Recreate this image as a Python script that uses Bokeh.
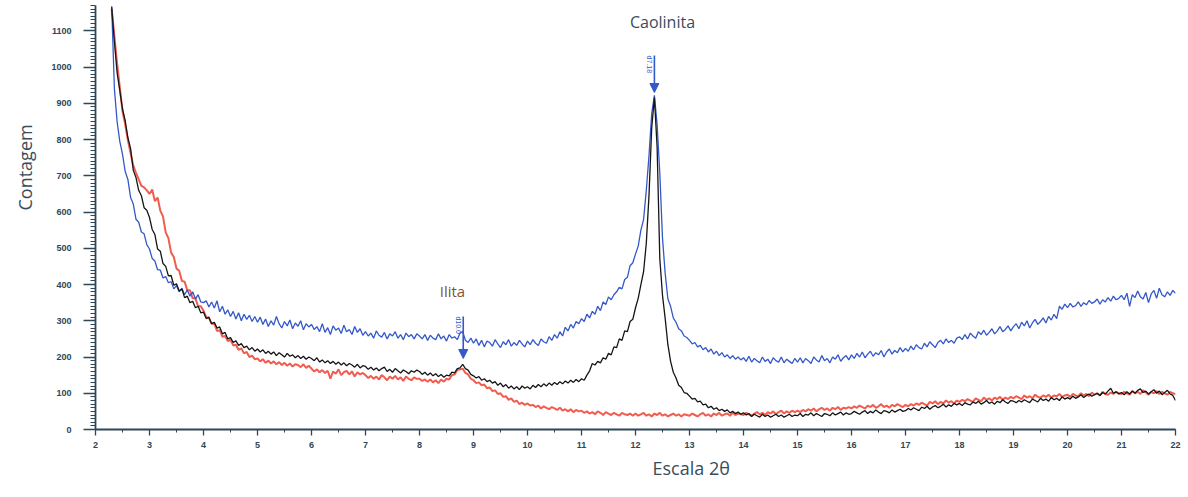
import numpy as np
from bokeh.plotting import figure
from bokeh.models import Range1d, SingleIntervalTicker, Label, Arrow, NormalHead, ColumnDataSource, Title
from bokeh.core.properties import value
from bokeh.embed import file_html
from bokeh.resources import INLINE

# Diffractogram counts, 0.05 deg steps; each row starts at the angle in row_starts
STEP = 0.05
row_starts = [2.3] + list(range(3, 23))

blue_rows = [
    [1168, 940, 850, 795, 760, 712, 690, 640, 622, 580, 572, 545, 540, 510],
    [498, 472, 465, 441, 440, 418, 422, 405, 408, 388, 397, 380, 390, 372, 385, 368, 380, 360, 372, 352],
    [350, 355, 338, 352, 335, 355, 325, 340, 318, 330, 312, 326, 305, 322, 300, 318, 304, 315, 298, 312],
    [296, 310, 290, 305, 284, 300, 288, 312, 292, 280, 298, 286, 302, 278, 294, 285, 300, 275, 292, 283],
    [290, 276, 284, 270, 292, 268, 281, 262, 286, 274, 280, 265, 288, 270, 276, 262, 284, 268, 278, 260],
    [270, 258, 266, 252, 272, 260, 255, 268, 250, 264, 258, 270, 252, 262, 248, 266, 256, 262, 250, 264],
    [258, 250, 262, 246, 260, 252, 248, 264, 250, 258, 244, 262, 252, 256, 248, 266, 270, 246, 240, 252],
    [238, 250, 232, 246, 228, 244, 240, 230, 248, 236, 226, 242, 234, 248, 230, 240, 232, 246, 236, 228],
    [244, 234, 248, 238, 232, 250, 242, 238, 256, 246, 262, 252, 270, 258, 282, 272, 290, 280, 298, 292],
    [306, 298, 318, 308, 326, 318, 340, 328, 352, 345, 366, 358, 372, 380, 392, 388, 414, 420, 452, 460],
    [484, 506, 550, 580, 660, 756, 872, 922, 842, 708, 528, 430, 360, 340, 308, 296, 278, 272, 258, 254],
    [246, 236, 240, 228, 232, 220, 226, 214, 222, 208, 216, 204, 212, 200, 206, 196, 204, 194, 200, 192],
    [198, 188, 202, 186, 196, 190, 184, 200, 188, 194, 182, 198, 190, 186, 200, 184, 194, 188, 182, 196],
    [186, 198, 184, 196, 190, 182, 200, 192, 186, 204, 190, 196, 184, 200, 194, 206, 188, 198, 204, 192],
    [206, 196, 210, 200, 214, 198, 208, 216, 202, 212, 206, 218, 200, 214, 222, 208, 218, 212, 226, 214],
    [224, 216, 230, 220, 234, 226, 222, 238, 228, 242, 234, 226, 240, 246, 236, 250, 240, 246, 238, 252],
    [256, 248, 262, 250, 266, 258, 252, 270, 262, 274, 260, 268, 278, 264, 272, 284, 270, 276, 286, 272],
    [284, 292, 278, 296, 286, 300, 280, 294, 304, 290, 298, 308, 294, 312, 302, 318, 306, 340, 332, 346],
    [336, 348, 338, 342, 352, 340, 350, 344, 356, 348, 352, 360, 346, 358, 352, 364, 354, 368, 358, 362],
    [370, 358, 376, 340, 372, 364, 382, 366, 360, 378, 350, 374, 384, 362, 390, 372, 366, 380, 370, 384],
    [376],
]

black_rows = [
    [1165, 1070, 985, 935, 885, 852, 805, 775, 715, 695, 660, 645, 612, 605],
    [585, 552, 538, 498, 492, 458, 450, 424, 425, 398, 402, 382, 388, 364, 368, 350, 354, 336, 340, 322],
    [324, 306, 310, 292, 296, 280, 283, 264, 268, 250, 254, 240, 245, 232, 237, 226, 230, 220, 226, 216],
    [222, 214, 220, 210, 216, 208, 214, 204, 212, 206, 200, 210, 202, 206, 198, 204, 196, 202, 194, 200],
    [196, 190, 198, 186, 192, 184, 190, 182, 188, 180, 186, 178, 184, 176, 182, 178, 172, 180, 170, 176],
    [174, 166, 172, 164, 170, 162, 168, 172, 160, 166, 158, 168, 162, 156, 164, 160, 154, 162, 158, 164],
    [160, 152, 158, 150, 156, 148, 154, 146, 152, 144, 150, 148, 158, 156, 168, 170, 180, 168, 164, 152],
    [148, 142, 146, 136, 140, 132, 136, 128, 132, 122, 128, 118, 124, 114, 120, 112, 118, 110, 120, 114],
    [118, 112, 122, 116, 124, 118, 126, 120, 128, 122, 130, 124, 132, 126, 134, 128, 136, 130, 138, 132],
    [140, 136, 150, 162, 182, 178, 188, 184, 198, 194, 210, 206, 228, 226, 250, 246, 272, 270, 298, 304],
    [336, 362, 400, 436, 514, 646, 832, 916, 780, 472, 370, 306, 234, 188, 158, 142, 122, 116, 102, 100],
    [92, 84, 86, 76, 78, 68, 70, 60, 64, 56, 60, 52, 56, 50, 54, 46, 50, 44, 48, 42],
    [46, 40, 44, 36, 42, 38, 34, 42, 36, 40, 34, 38, 42, 36, 40, 34, 38, 42, 36, 40],
    [38, 44, 36, 42, 40, 46, 38, 44, 40, 36, 44, 42, 38, 46, 40, 44, 48, 40, 46, 42],
    [44, 50, 46, 42, 48, 52, 44, 50, 46, 54, 48, 44, 52, 50, 46, 54, 48, 52, 56, 50],
    [52, 58, 54, 60, 56, 52, 62, 58, 64, 56, 62, 66, 60, 64, 70, 62, 68, 64, 72, 68],
    [72, 66, 74, 70, 68, 76, 72, 78, 70, 74, 80, 72, 76, 70, 78, 74, 82, 76, 72, 80],
    [78, 74, 80, 76, 82, 78, 74, 84, 80, 76, 86, 80, 84, 78, 88, 82, 86, 80, 90, 84],
    [88, 84, 92, 86, 90, 96, 88, 94, 98, 92, 96, 100, 94, 102, 98, 106, 114, 100, 104, 98],
    [102, 96, 104, 98, 106, 100, 108, 112, 102, 106, 98, 104, 110, 100, 106, 96, 102, 108, 98, 94],
    [80],
]

red_rows = [
    [1160, 1085, 1010, 945, 878, 842, 798, 762, 728, 708, 690, 672, 668, 660],
    [650, 662, 630, 640, 604, 588, 544, 528, 488, 476, 444, 438, 410, 408, 384, 384, 362, 362, 340, 340],
    [328, 310, 308, 292, 292, 272, 274, 256, 258, 244, 248, 232, 234, 220, 224, 210, 214, 200, 204, 194],
    [196, 188, 194, 184, 190, 182, 188, 180, 186, 178, 184, 176, 182, 174, 180, 178, 172, 180, 170, 176],
    [168, 160, 166, 158, 164, 156, 162, 140, 160, 154, 166, 150, 158, 162, 152, 160, 146, 158, 152, 156],
    [150, 142, 148, 140, 146, 138, 150, 144, 136, 146, 140, 148, 138, 144, 134, 146, 140, 136, 144, 140],
    [140, 134, 138, 132, 138, 130, 136, 128, 138, 132, 140, 138, 150, 152, 164, 166, 168, 156, 152, 140],
    [136, 128, 130, 122, 124, 114, 116, 106, 108, 98, 100, 90, 92, 82, 86, 76, 80, 70, 74, 68],
    [72, 66, 68, 62, 66, 58, 64, 60, 56, 62, 58, 54, 60, 52, 56, 50, 56, 48, 54, 50],
    [52, 46, 50, 44, 48, 42, 50, 46, 40, 48, 44, 40, 46, 42, 38, 46, 42, 40, 44, 38],
    [44, 38, 42, 46, 38, 42, 36, 44, 40, 46, 38, 42, 36, 40, 44, 38, 42, 36, 42, 40],
    [38, 44, 40, 36, 42, 46, 38, 42, 36, 44, 40, 46, 38, 42, 44, 38, 46, 40, 44, 42],
    [40, 46, 42, 38, 44, 48, 42, 46, 40, 48, 44, 50, 42, 48, 52, 44, 50, 46, 52, 48],
    [52, 48, 54, 50, 56, 52, 58, 50, 56, 60, 54, 58, 52, 60, 56, 62, 54, 60, 58, 62],
    [58, 64, 60, 66, 62, 58, 66, 62, 68, 60, 64, 70, 62, 66, 60, 68, 64, 70, 66, 62],
    [68, 64, 70, 66, 72, 68, 74, 70, 66, 76, 72, 78, 70, 76, 72, 80, 74, 78, 72, 80],
    [76, 82, 78, 84, 80, 76, 86, 82, 78, 88, 82, 86, 80, 88, 84, 90, 82, 88, 84, 90],
    [86, 92, 88, 84, 94, 88, 92, 86, 96, 90, 88, 94, 90, 96, 88, 94, 92, 98, 90, 94],
    [96, 90, 98, 94, 92, 100, 94, 98, 92, 102, 96, 100, 94, 104, 98, 96, 102, 98, 104, 100],
    [98, 104, 100, 96, 106, 100, 104, 98, 108, 102, 96, 104, 100, 106, 98, 104, 100, 96, 104, 100],
    [98],
]

# Identified reflections
peak_names = ["Caolinita", "Ilita"]
peak_angle = [12.35, 8.81]
peak_d = ["d7.18", "d10.0"]
marker_top = [1032, 312]
marker_tip = [930, 196]

BLUE = "#3458c9"
BLACK = "#151515"
RED = "#ee4b3d"
AXIS = "#2e4756"
TEXT = "#3a4c5a"


def expand(rows):
    xs, ys = [], []
    for start, vals in zip(row_starts, rows):
        for i, v in enumerate(vals):
            xs.append(round(start + STEP * i, 2))
            ys.append(v)
    return np.array(xs), np.array(ys)


p = figure(width=1188, height=497, x_range=Range1d(2, 22), y_range=Range1d(0, 1170),
           output_backend="svg", toolbar_location=None,
           min_border_left=95, min_border_right=13, min_border_top=5, min_border_bottom=68)
p.outline_line_color = None
p.xgrid.grid_line_color = None
p.ygrid.grid_line_color = None
p.background_fill_color = "white"
p.border_fill_color = "white"

xr, yr = expand(red_rows)
xb, yb = expand(blue_rows)
xk, yk = expand(black_rows)
p.line(xr, yr, line_color=RED, line_width=2.0, line_alpha=0.9)
p.line(xb, yb, line_color=BLUE, line_width=1.3)
p.line(xk, yk, line_color=BLACK, line_width=1.3)

# axes
p.xaxis.ticker = SingleIntervalTicker(interval=1, num_minor_ticks=2)
p.yaxis.ticker = SingleIntervalTicker(interval=100, num_minor_ticks=10)
for ax in (p.xaxis, p.yaxis):
    ax.axis_line_color = AXIS
    ax.axis_line_width = 1.8
    ax.major_tick_line_color = AXIS
    ax.minor_tick_line_color = AXIS
    ax.major_tick_line_width = 1.3
    ax.minor_tick_line_width = 1
    ax.major_tick_in = 0
    ax.minor_tick_in = 0
    ax.major_label_text_font = "Liberation Sans"
    ax.major_label_text_font_style = "bold"
    ax.major_label_text_font_size = "9px"
    ax.major_label_text_color = AXIS
p.xaxis.major_tick_out = 6
p.xaxis.minor_tick_out = 3
p.xaxis.major_label_standoff = 6
p.yaxis.major_tick_out = 12
p.yaxis.minor_tick_out = 5
p.yaxis.major_label_standoff = 12

# axis titles, placed in the side panels
p.add_layout(Title(text="Escala 2θ", align="left", offset=557, standoff=10,
                   vertical_align="top", text_font="Open Sans", text_font_size="18px",
                   text_font_style="normal", text_color=TEXT), "below")
p.add_layout(Title(text="Contagem", align="left", offset=219, standoff=20,
                   vertical_align="top", text_font="Open Sans", text_font_size="18px",
                   text_font_style="normal", text_color=TEXT), "left")

# phase names
p.add_layout(Label(x=12.5, y=1125, text=peak_names[0], text_align="center",
                   text_baseline="alphabetic", text_font="Open Sans",
                   text_font_size="16px", text_color=TEXT))
p.add_layout(Label(x=8.61, y=383, text=peak_names[1], text_align="center",
                   text_baseline="alphabetic", text_font="Open Sans",
                   text_font_size="15px", text_color="#7e5434"))

# reflection markers
src = ColumnDataSource(dict(x=peak_angle, top=marker_top, tip=marker_tip, d=peak_d))
p.add_layout(Arrow(end=NormalHead(size=9, fill_color=BLUE, line_color=BLUE),
                   x_start="x", y_start="top", x_end="x", y_end="tip",
                   line_color=BLUE, line_width=1.6, source=src))
p.text(x="x", y="top", text="d", source=src, angle=-np.pi / 2, text_align="left",
       text_baseline="top", text_font=value("Liberation Sans"),
       text_font_size="7px", text_color=BLUE, x_offset=-1)

open("out.html", "w").write(file_html(p, INLINE))
